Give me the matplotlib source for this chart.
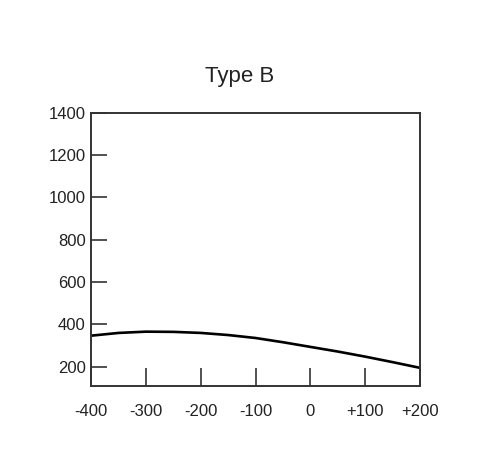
import matplotlib
matplotlib.use("Agg")
import matplotlib.pyplot as plt

# data
x_vals = [-400, -350, -300, -250, -200, -150, -100, -50, 0, 50, 100, 150, 200]
y_vals = [347, 360, 366, 365, 360, 350, 336, 316, 294, 272, 248, 222, 195]

x_ticks = [-400, -300, -200, -100, 0, 100, 200]
x_labels = ["-400", "-300", "-200", "-100", "0", "+100", "+200"]
y_ticks = [200, 400, 600, 800, 1000, 1200, 1400]
y_labels = ["200", "400", "600", "800", "1000", "1200", "1400"]

plt.rcParams['font.family'] = ['Liberation Sans', 'DejaVu Sans']

fig = plt.figure(figsize=(4.8, 4.74), dpi=100)
ax = fig.add_axes([0.19, 0.186, 0.685, 0.576])

ax.plot(x_vals, y_vals, color='black', linewidth=1.9)

ax.set_xlim(-400, 200)
ax.set_ylim(110, 1400)
ax.set_xticks(x_ticks)
ax.set_xticklabels(x_labels)
ax.set_yticks(y_ticks)
ax.set_yticklabels(y_labels)

ax.tick_params(axis='x', direction='in', length=13, width=1.1, pad=13,
               labelsize=12, colors='#222222')
ax.tick_params(axis='y', direction='in', length=11.5, width=1.1, pad=4,
               labelsize=12, colors='#222222')

for s in ax.spines.values():
    s.set_linewidth(1.4)
    s.set_color('#333333')

fig.text(0.5, 0.838, "Type B", ha='center', va='center', fontsize=16, color='#222222')

fig.savefig("out.png", dpi=100)
